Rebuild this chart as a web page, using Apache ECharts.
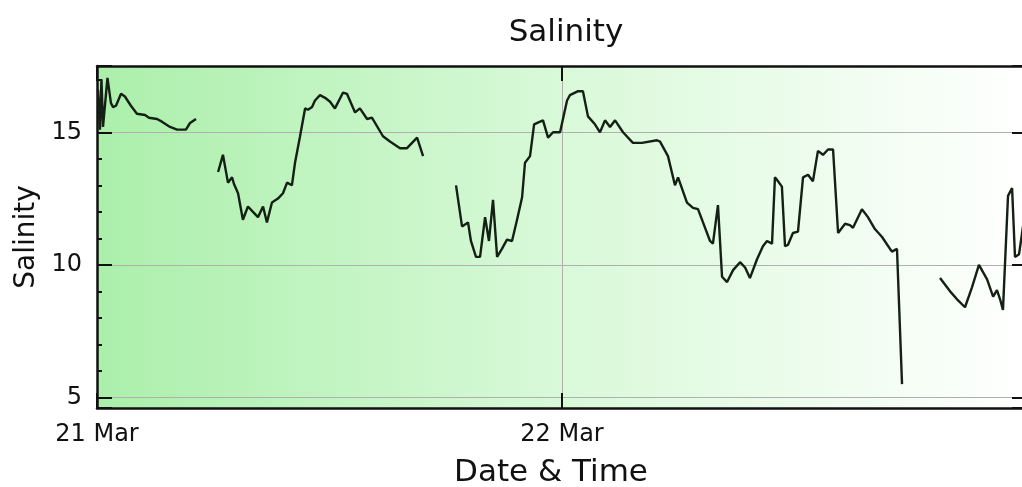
<!DOCTYPE html>
<html>
<head>
<meta charset="utf-8">
<script src="https://cdn.jsdelivr.net/npm/echarts@6/dist/echarts.min.js"></script>
<style>
html,body{margin:0;padding:0;background:#fff;}
#chart{width:1022px;height:487px;}
</style>
</head>
<body>
<div id="chart"></div>
<script>
// x values are hours since 21 Mar 00:00
const xTickLabels = ['21 Mar', '22 Mar', '23 Mar'];

const seg1Hours = [0.05,0.15,0.23,0.31,0.54,0.72,0.83,0.98,1.24,1.44,1.75,2.06,2.48,2.68,3.10,3.35,3.77,4.13,4.59,4.80,5.11];
const seg1Salinity = [16.6,15.1,17.0,15.2,17.05,16.1,15.95,16.0,16.45,16.35,16.0,15.7,15.65,15.55,15.5,15.4,15.2,15.1,15.1,15.35,15.5];

const seg2Hours = [6.25,6.50,6.76,6.97,7.07,7.28,7.53,7.79,8.05,8.31,8.57,8.77,9.03,9.34,9.60,9.81,10.06,10.22,10.48,10.74,10.89,11.10,11.25,11.51,11.77,12.03,12.28,12.70,12.90,13.32,13.57,13.94,14.19,14.76,15.12,15.64,16.00,16.52,16.83];
const seg2Salinity = [13.5,14.15,13.1,13.3,13.05,12.7,11.7,12.2,12.0,11.8,12.2,11.6,12.35,12.5,12.7,13.1,13.0,13.85,14.85,15.9,15.85,15.95,16.2,16.4,16.3,16.15,15.9,16.5,16.45,15.75,15.9,15.5,15.55,14.85,14.65,14.4,14.4,14.8,14.1];

const seg3Hours = [18.53,18.84,19.15,19.30,19.56,19.77,20.03,20.23,20.44,20.65,20.90,21.16,21.42,21.68,21.94,22.09,22.35,22.56,22.87,23.02,23.28,23.54,23.90,24.26,24.41,24.83,25.08,25.34,25.70,25.96,26.22,26.48,26.74,27.15,27.66,28.13,28.90,29.06,29.47,29.83,29.99,30.45,30.76,31.02,31.64,31.79,32.05,32.26,32.52,32.83,33.19,33.45,33.70,34.06,34.37,34.58,34.84,34.99,35.15,35.35,35.51,35.66,35.92,36.18,36.44,36.70,36.95,37.21,37.47,37.73,37.99,38.25,38.61,38.86,39.02,39.48,39.79,40.15,40.52,40.93,41.03,41.29,41.55];
const seg3Salinity = [13.0,11.45,11.6,10.9,10.3,10.3,11.8,10.9,12.45,10.3,10.6,10.95,10.9,11.7,12.55,13.85,14.1,15.3,15.4,15.45,14.8,15.0,15.0,16.2,16.4,16.55,16.55,15.6,15.3,15.0,15.45,15.2,15.45,15.0,14.6,14.6,14.7,14.65,14.1,13.0,13.3,12.35,12.15,12.1,10.9,10.8,12.25,9.55,9.35,9.8,10.1,9.9,9.5,10.2,10.7,10.9,10.8,13.3,13.15,12.95,10.7,10.75,11.2,11.25,13.3,13.4,13.15,14.3,14.15,14.35,14.35,11.2,11.55,11.5,11.4,12.1,11.8,11.35,11.05,10.6,10.5,10.6,5.5];

const seg4Hours = [43.51,44.03,44.39,44.80,45.16,45.52,45.94,46.25,46.45,46.61,46.76,47.02,47.23,47.38,47.59,47.90];
const seg4Salinity = [9.5,9.0,8.7,8.4,9.15,10.0,9.45,8.8,9.05,8.7,8.3,12.6,12.9,10.3,10.4,12.0];

const segments = [
  [seg1Hours, seg1Salinity],
  [seg2Hours, seg2Salinity],
  [seg3Hours, seg3Salinity],
  [seg4Hours, seg4Salinity]
];

const FONT = 'DejaVu Sans';
const INK = '#111111';

const chart = echarts.init(document.getElementById('chart'), null, {renderer: 'canvas'});

function yAxisDef(pos, withLabels) {
  return {
    type: 'value', min: 4.6, max: 17.5, splitNumber: 3, position: pos,
    axisLine: {show: true, onZero: false, lineStyle: {color: INK, width: 2.5}},
    axisTick: {show: true, inside: true, length: 15, lineStyle: {color: INK, width: 2}},
    minorTick: {show: true, splitNumber: 5, length: 5, lineStyle: {color: INK, width: 2}},
    axisLabel: withLabels
      ? {fontFamily: FONT, fontSize: 24, color: INK, margin: 15, showMinLabel: false, showMaxLabel: false}
      : {show: false},
    splitLine: {show: withLabels, lineStyle: {color: '#b0b0b0', width: 1}}
  };
}

const yLeft = yAxisDef('left', true);
yLeft.name = 'Salinity';
yLeft.nameLocation = 'middle';
yLeft.nameGap = 54;
yLeft.nameRotate = 90;
yLeft.nameTextStyle = {fontFamily: FONT, fontSize: 28, color: INK};
const yRight = yAxisDef('right', false);

const option = {
  backgroundColor: '#ffffff',
  animation: false,
  title: {
    text: 'Salinity', left: 561, top: 12, textAlign: 'center',
    textStyle: {fontFamily: FONT, fontSize: 31, fontWeight: 'normal', color: INK}
  },
  grid: {
    left: 97, top: 66, width: 930, height: 342, show: true, borderWidth: 0,
    containLabel: false, outerBoundsMode: 'none',
    backgroundColor: {
      type: 'linear', x: 0, y: 0, x2: 1, y2: 0,
      colorStops: [
        {offset: 0, color: '#abefab'},
        {offset: 0.5, color: '#d9f9d9'},
        {offset: 1, color: '#ffffff'}
      ]
    }
  },
  xAxis: [
    {
      type: 'value', min: 0, max: 48, interval: 24, position: 'bottom',
      name: 'Date & Time', nameLocation: 'middle', nameGap: 49,
      nameTextStyle: {fontFamily: FONT, fontSize: 31, color: INK, padding: [0, 22, 0, 0]},
      axisLine: {show: true, onZero: false, lineStyle: {color: INK, width: 2.5}},
      axisTick: {show: true, inside: true, length: 15, lineStyle: {color: INK, width: 2}},
      axisLabel: {
        fontFamily: FONT, fontSize: 24, color: INK, margin: 15,
        showMaxLabel: false,
        formatter: v => xTickLabels[Math.round(v / 24)]
      },
      splitLine: {show: true, lineStyle: {color: '#b0b0b0', width: 1}}
    },
    {
      type: 'value', min: 0, max: 48, interval: 24, position: 'top',
      axisLine: {show: true, onZero: false, lineStyle: {color: INK, width: 2.5}},
      axisTick: {show: true, inside: true, length: 15, lineStyle: {color: INK, width: 2}},
      axisLabel: {show: false},
      splitLine: {show: false}
    }
  ],
  yAxis: [yLeft, yRight],
  series: segments.map(([hrs, vals]) => ({
    type: 'line',
    xAxisIndex: 0, yAxisIndex: 0,
    symbol: 'none',
    lineStyle: {color: '#142014', width: 2.4},
    data: hrs.map((h, i) => [h, vals[i]])
  }))
};

chart.setOption(option);
</script>
</body>
</html>
